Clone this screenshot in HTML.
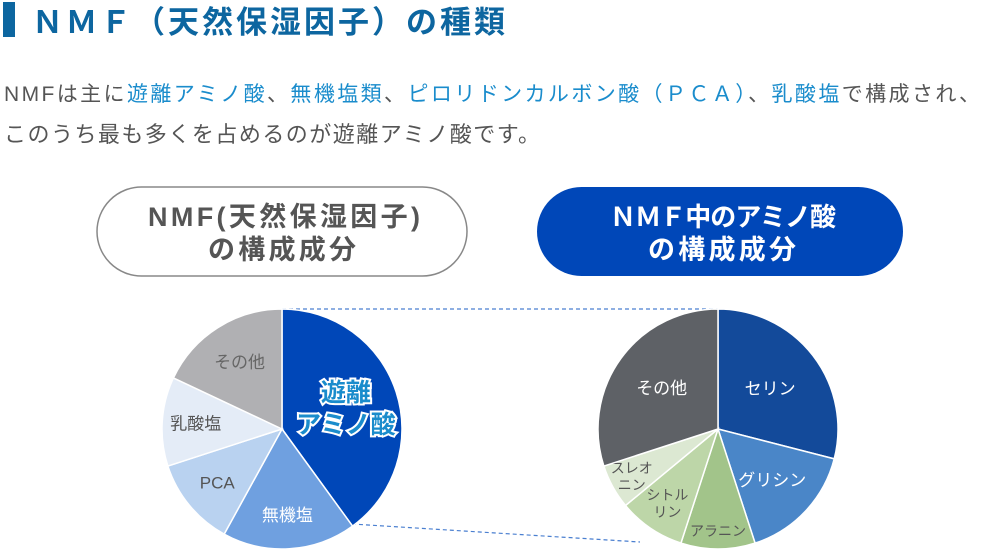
<!DOCTYPE html>
<html><head><meta charset="utf-8"><style>
html,body{margin:0;padding:0;background:#fff}
svg{display:block;font-family:"Liberation Sans","Noto Sans CJK JP",sans-serif}
</style></head><body>
<svg id="c" width="988" height="551" viewBox="0 0 988 551">
<rect x="3" y="2" width="12" height="35" fill="#0d66a0"/>
<text x="32" y="33" font-size="31" font-weight="bold" fill="#0d66a0" textLength="473" lengthAdjust="spacing">ＮＭＦ（天然保湿因子）の種類</text>
<text x="4" y="101" font-size="21" fill="#555" textLength="976" lengthAdjust="spacing">NMFは主に<tspan fill="#1a8ccc">遊離アミノ酸</tspan>、<tspan fill="#1a8ccc">無機塩類</tspan>、<tspan fill="#1a8ccc">ピロリドンカルボン酸（ＰＣＡ）</tspan>、<tspan fill="#1a8ccc">乳酸塩</tspan>で構成され、</text>
<text x="4" y="142" font-size="22" fill="#555" textLength="536" lengthAdjust="spacing">このうち最も多くを占めるのが遊離アミノ酸です。</text>
<rect x="97" y="187" width="370" height="89" rx="44.5" fill="#fff" stroke="#888" stroke-width="1.5"/>
<text x="148" y="226" font-size="27" font-weight="bold" fill="#555" textLength="272" lengthAdjust="spacing">NMF(天然保湿因子)</text>
<text x="208" y="259" font-size="27" font-weight="bold" fill="#555" textLength="148" lengthAdjust="spacing">の構成成分</text>
<rect x="537" y="187" width="366" height="89" rx="44.5" fill="#0047b8"/>
<text x="610" y="226" font-size="26" font-weight="bold" fill="#fff" textLength="226" lengthAdjust="spacing">ＮＭＦ中のアミノ酸</text>
<text x="648" y="259" font-size="27" font-weight="bold" fill="#fff" textLength="148" lengthAdjust="spacing">の構成成分</text>
<line x1="282" y1="309" x2="718" y2="309" stroke="#4a7fd0" stroke-width="1.2" stroke-dasharray="4,3"/>
<line x1="352" y1="524" x2="640" y2="542" stroke="#4a7fd0" stroke-width="1.2" stroke-dasharray="4,3"/>
<g id="pies"></g>
</svg>
<script>
const leftCategories = ['遊離アミノ酸','無機塩','PCA','乳酸塩','その他'];
const leftValues = [40, 18, 12, 12, 18];
const rightCategories = ['セリン','グリシン','アラニン','シトルリン','スレオニン','その他'];
const rightValues = [29, 16, 10, 9, 6, 30];

const NS='http://www.w3.org/2000/svg';
const g=document.getElementById('pies');
function pt(cx,cy,r,f){const a=f*2*Math.PI;return [cx+r*Math.sin(a),cy-r*Math.cos(a)];}
function pie(cx,cy,r,vals,cats,colors,labels,prefix){
  const tot=vals.reduce((a,b)=>a+b,0);let acc=0;
  vals.forEach((v,i)=>{
    const f0=acc/tot,f1=(acc+v)/tot;acc+=v;
    const [x0,y0]=pt(cx,cy,r,f0),[x1,y1]=pt(cx,cy,r,f1);
    const p=document.createElementNS(NS,'path');
    p.setAttribute('d',`M${cx},${cy}L${x0},${y0}A${r},${r} 0 ${f1-f0>0.5?1:0} 1 ${x1},${y1}Z`);
    p.setAttribute('fill',colors[i]);p.setAttribute('stroke','#fff');p.setAttribute('stroke-width','1.5');
    
    
    g.appendChild(p);
    const L=labels[i];const [lx,ly]=pt(cx,cy,r*L.rf,(f0+f1)/2);
    const t=document.createElementNS(NS,'text');
    t.setAttribute('x',lx);t.setAttribute('y',ly-(L.lines.length-1)*L.lh/2+L.fs*0.35);
    t.setAttribute('font-size',L.fs);t.setAttribute('fill',L.c);t.setAttribute('text-anchor','middle');
    if(L.bold){t.setAttribute('font-weight','bold');t.setAttribute('stroke','#fff');t.setAttribute('stroke-width','4');t.setAttribute('paint-order','stroke');}
    
    
    L.lines.forEach((s,j)=>{const ts=document.createElementNS(NS,'tspan');ts.setAttribute('x',lx);if(j>0)ts.setAttribute('dy',L.lh);ts.textContent=s;t.appendChild(ts);});
    g.appendChild(t);
  });
}
pie(282,429,120,leftValues,leftCategories,['#0047b8','#6fa0e0','#b9d2f0','#e4ecf7','#b0b0b3'],[
 {lines:['遊離','アミノ酸'],rf:0.56,fs:25,lh:32,c:'#1a8ccc',bold:true},
 {lines:['無機塩'],rf:0.72,fs:17,lh:20,c:'#fff'},
 {lines:['PCA'],rf:0.7,fs:17,lh:20,c:'#555'},
 {lines:['乳酸塩'],rf:0.72,fs:17,lh:20,c:'#555'},
 {lines:['その他'],rf:0.66,fs:17,lh:20,c:'#666'}],'left');
pie(718,429,120,rightValues,rightCategories,['#134a9a','#4a86c8','#a2c48a','#bdd6a8','#dce8d2','#5e6166'],[
 {lines:['セリン'],rf:0.55,fs:17,lh:20,c:'#fff'},
 {lines:['グリシン'],rf:0.62,fs:17,lh:20,c:'#fff'},
 {lines:['アラニン'],rf:0.85,fs:14,lh:16,c:'#555'},
 {lines:['シトル','リン'],rf:0.75,fs:14,lh:17,c:'#555'},
 {lines:['スレオ','ニン'],rf:0.82,fs:14,lh:17,c:'#555'},
 {lines:['その他'],rf:0.58,fs:17,lh:20,c:'#fff'}],'right');
</script>
</body></html>
